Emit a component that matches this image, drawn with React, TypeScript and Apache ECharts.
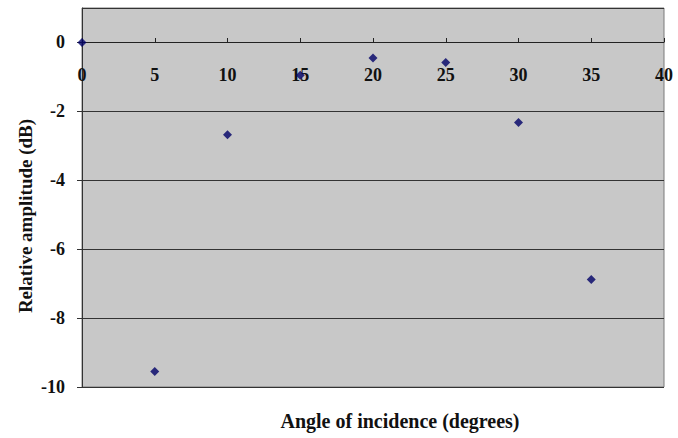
import { useEffect, useRef } from "react";
import * as echarts from "echarts";

const angles = [0, 5, 10, 15, 20, 25, 30, 35];
const amplitudes = [0, -9.55, -2.68, -0.95, -0.45, -0.58, -2.32, -6.88];

const serif = "'Liberation Serif', 'Times New Roman', serif";

export default function App() {
  const ref = useRef<HTMLDivElement | null>(null);

  useEffect(() => {
    document.body.style.margin = "0";
    document.body.style.overflow = "hidden";
    if (!ref.current) return;
    const chart = echarts.init(ref.current, undefined, { renderer: "svg" });
    chart.setOption({
      animation: false,
      backgroundColor: "#ffffff",
      grid: {
        left: 82,
        top: 8,
        width: 582,
        height: 379,
        show: true,
        backgroundColor: "#c8c8c8",
        borderColor: "#7a7a7a",
        borderWidth: 1,
      },
      xAxis: {
        type: "value",
        min: 0,
        max: 40,
        interval: 5,
        position: "bottom",
        offset: -345,
        axisLine: { onZero: false, lineStyle: { color: "#222", width: 1 } },
        axisTick: { inside: true, length: 4, lineStyle: { color: "#222" } },
        splitLine: { show: false },
        axisLabel: {
          margin: 24,
          color: "#111",
          fontFamily: serif,
          fontWeight: "bold",
          fontSize: 18,
        },
      },
      yAxis: {
        type: "value",
        min: -10,
        max: 1,
        interval: 2,
        axisLine: { show: true, lineStyle: { color: "#333" } },
        axisTick: { show: true, length: 5, lineStyle: { color: "#333" } },
        splitLine: { show: true, lineStyle: { color: "#333", width: 1 } },
        axisLabel: {
          showMaxLabel: false,
          margin: 17,
          color: "#111",
          fontFamily: serif,
          fontWeight: "bold",
          fontSize: 18,
          formatter: (v: number) => (v % 2 === 0 ? String(v) : ""),
        },
      },
      graphic: [
        {
          type: "text",
          x: 400,
          y: 421,
          style: {
            text: "Angle of incidence (degrees)",
            fontFamily: serif,
            fontWeight: "bold",
            fontSize: 20,
            fill: "#111",
            align: "center",
            verticalAlign: "middle",
          },
        },
        {
          type: "text",
          x: 25,
          y: 216,
          rotation: Math.PI / 2,
          style: {
            text: "Relative amplitude (dB)",
            fontFamily: serif,
            fontWeight: "bold",
            fontSize: 19,
            fill: "#111",
            align: "center",
            verticalAlign: "middle",
          },
        },
      ],
      series: [
        {
          type: "scatter",
          symbol: "diamond",
          symbolSize: 9,
          itemStyle: { color: "#000066" },
          data: angles.map((a, i) => [a, amplitudes[i]]),
        },
      ],
    });
    return () => chart.dispose();
  }, []);

  return <div ref={ref} style={{ width: 678, height: 438 }} />;
}
